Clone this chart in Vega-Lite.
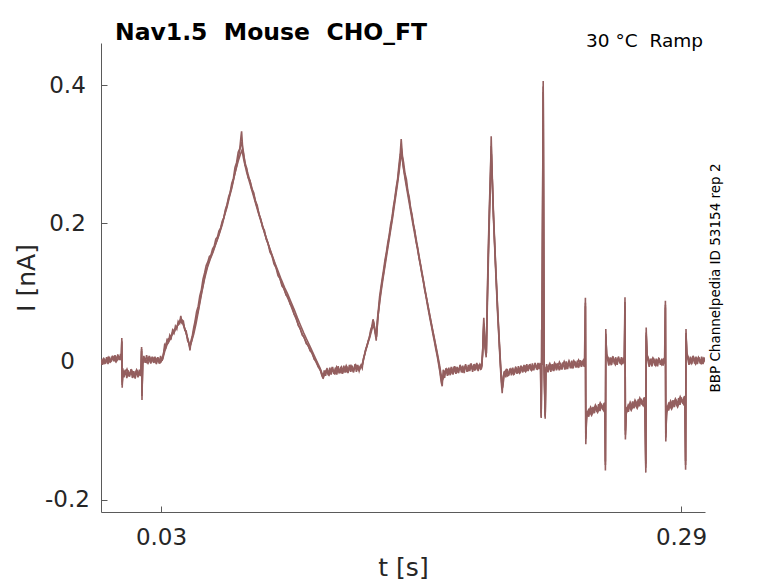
{
  "$schema": "https://vega.github.io/schema/vega-lite/v6.json",
  "width": 604,
  "height": 469,
  "autosize": "none",
  "padding": {"left": 101, "top": 43, "right": 73, "bottom": 71},
  "background": "white",
  "config": {"view": {"stroke": null}, "font": "DejaVu Sans"},
  "title": {
    "text": "Nav1.5 \u00a0Mouse \u00a0CHO_FT",
    "anchor": "start",
    "frame": "group",
    "fontSize": 23.5,
    "fontWeight": "bold",
    "color": "black",
    "dx": 14,
    "offset": -12
  },
  "resolve": {"axis": {"y": "independent"}},
  "layer": [
    {
      "data": {
        "values": [
          {"r":1,"t":0.0000,"i":0.002},{"r":1,"t":0.0007,"i":-0.005},{"r":1,"t":0.0014,"i":0.005},{"r":1,"t":0.0021,"i":-0.003},{"r":1,"t":0.0028,"i":0.006},{"r":1,"t":0.0035,"i":-0.004},{"r":1,"t":0.0042,"i":0.007},{"r":1,"t":0.0049,"i":-0.001},{"r":1,"t":0.0056,"i":0.008},{"r":1,"t":0.0063,"i":0.000},{"r":1,"t":0.0070,"i":0.009},{"r":1,"t":0.0077,"i":0.001},{"r":1,"t":0.0084,"i":0.010},{"r":1,"t":0.0091,"i":0.002},{"r":1,"t":0.0098,"i":0.011},{"r":1,"t":0.0102,"i":0.004},
          {"r":1,"t":0.0104,"i":0.034},{"r":1,"t":0.0106,"i":-0.038},{"r":1,"t":0.0109,"i":-0.010},
          {"r":1,"t":0.0115,"i":-0.023},{"r":1,"t":0.0122,"i":-0.012},{"r":1,"t":0.0129,"i":-0.024},{"r":1,"t":0.0136,"i":-0.013},{"r":1,"t":0.0143,"i":-0.022},{"r":1,"t":0.0150,"i":-0.011},{"r":1,"t":0.0157,"i":-0.024},{"r":1,"t":0.0164,"i":-0.014},{"r":1,"t":0.0171,"i":-0.025},{"r":1,"t":0.0178,"i":-0.013},{"r":1,"t":0.0185,"i":-0.023},{"r":1,"t":0.0192,"i":-0.012},{"r":1,"t":0.0199,"i":-0.021},
          {"r":1,"t":0.0203,"i":0.021},{"r":1,"t":0.0205,"i":-0.056},{"r":1,"t":0.0208,"i":-0.004},
          {"r":1,"t":0.0214,"i":0.008},{"r":1,"t":0.0221,"i":-0.002},{"r":1,"t":0.0228,"i":0.009},{"r":1,"t":0.0235,"i":0.000},{"r":1,"t":0.0242,"i":0.008},{"r":1,"t":0.0249,"i":-0.003},{"r":1,"t":0.0256,"i":0.007},{"r":1,"t":0.0263,"i":-0.002},{"r":1,"t":0.0270,"i":0.007},{"r":1,"t":0.0277,"i":-0.004},{"r":1,"t":0.0284,"i":0.006},{"r":1,"t":0.0291,"i":-0.003},{"r":1,"t":0.0298,"i":0.008},{"r":1,"t":0.0305,"i":0.001},
          {"r":1,"t":0.0312,"i":0.010},{"r":1,"t":0.0318,"i":0.024},{"r":1,"t":0.0324,"i":0.021},{"r":1,"t":0.0330,"i":0.031},{"r":1,"t":0.0337,"i":0.028},{"r":1,"t":0.0344,"i":0.038},{"r":1,"t":0.0351,"i":0.034},{"r":1,"t":0.0358,"i":0.045},{"r":1,"t":0.0365,"i":0.041},{"r":1,"t":0.0372,"i":0.051},{"r":1,"t":0.0379,"i":0.047},{"r":1,"t":0.0386,"i":0.058},{"r":1,"t":0.0393,"i":0.055},{"r":1,"t":0.0399,"i":0.066},{"r":1,"t":0.0405,"i":0.056},{"r":1,"t":0.0412,"i":0.058},{"r":1,"t":0.0419,"i":0.045},{"r":1,"t":0.0426,"i":0.044},{"r":1,"t":0.0433,"i":0.030},{"r":1,"t":0.0440,"i":0.026},{"r":1,"t":0.0445,"i":0.016},{"r":1,"t":0.0450,"i":0.030},{"r":1,"t":0.0456,"i":0.036},{"r":1,"t":0.0463,"i":0.048},
          {"r":1,"t":0.0470,"i":0.058},{"r":1,"t":0.0478,"i":0.072},{"r":1,"t":0.0486,"i":0.080},{"r":1,"t":0.0494,"i":0.095},{"r":1,"t":0.0502,"i":0.104},{"r":1,"t":0.0510,"i":0.119},{"r":1,"t":0.0518,"i":0.128},{"r":1,"t":0.0526,"i":0.139},{"r":1,"t":0.0534,"i":0.144},{"r":1,"t":0.0542,"i":0.152},{"r":1,"t":0.0550,"i":0.154},{"r":1,"t":0.0558,"i":0.163},{"r":1,"t":0.0566,"i":0.167},{"r":1,"t":0.0574,"i":0.177},{"r":1,"t":0.0582,"i":0.180},{"r":1,"t":0.0590,"i":0.189},{"r":1,"t":0.0598,"i":0.193},{"r":1,"t":0.0606,"i":0.203},{"r":1,"t":0.0614,"i":0.208},{"r":1,"t":0.0622,"i":0.220},{"r":1,"t":0.0630,"i":0.227},{"r":1,"t":0.0638,"i":0.238},{"r":1,"t":0.0646,"i":0.245},{"r":1,"t":0.0654,"i":0.258},{"r":1,"t":0.0662,"i":0.265},{"r":1,"t":0.0670,"i":0.281},{"r":1,"t":0.0678,"i":0.288},{"r":1,"t":0.0686,"i":0.303},{"r":1,"t":0.0694,"i":0.308},{"r":1,"t":0.0700,"i":0.326},{"r":1,"t":0.0703,"i":0.333},
          {"r":1,"t":0.0708,"i":0.310},{"r":1,"t":0.0714,"i":0.300},{"r":1,"t":0.0720,"i":0.284},{"r":1,"t":0.0727,"i":0.281},{"r":1,"t":0.0736,"i":0.266},{"r":1,"t":0.0745,"i":0.262},{"r":1,"t":0.0754,"i":0.249},{"r":1,"t":0.0763,"i":0.245},{"r":1,"t":0.0772,"i":0.232},{"r":1,"t":0.0781,"i":0.226},{"r":1,"t":0.0790,"i":0.213},{"r":1,"t":0.0799,"i":0.206},{"r":1,"t":0.0808,"i":0.194},{"r":1,"t":0.0817,"i":0.190},{"r":1,"t":0.0826,"i":0.177},{"r":1,"t":0.0835,"i":0.171},{"r":1,"t":0.0845,"i":0.158},{"r":1,"t":0.0855,"i":0.153},{"r":1,"t":0.0865,"i":0.141},{"r":1,"t":0.0875,"i":0.136},{"r":1,"t":0.0885,"i":0.124},{"r":1,"t":0.0895,"i":0.120},{"r":1,"t":0.0905,"i":0.109},{"r":1,"t":0.0915,"i":0.106},{"r":1,"t":0.0925,"i":0.096},{"r":1,"t":0.0935,"i":0.094},{"r":1,"t":0.0946,"i":0.083},{"r":1,"t":0.0956,"i":0.079},{"r":1,"t":0.0966,"i":0.068},{"r":1,"t":0.0976,"i":0.064},{"r":1,"t":0.0986,"i":0.052},{"r":1,"t":0.0996,"i":0.048},{"r":1,"t":0.1006,"i":0.038},{"r":1,"t":0.1016,"i":0.035},{"r":1,"t":0.1026,"i":0.026},{"r":1,"t":0.1036,"i":0.023},{"r":1,"t":0.1046,"i":0.015},{"r":1,"t":0.1056,"i":0.013},{"r":1,"t":0.1066,"i":0.003},{"r":1,"t":0.1076,"i":0.001},{"r":1,"t":0.1086,"i":-0.008},{"r":1,"t":0.1096,"i":-0.011},{"r":1,"t":0.1104,"i":-0.020},{"r":1,"t":0.1111,"i":-0.025},
          {"r":1,"t":0.1116,"i":-0.013},{"r":1,"t":0.1123,"i":-0.021},{"r":1,"t":0.1130,"i":-0.010},{"r":1,"t":0.1137,"i":-0.020},{"r":1,"t":0.1144,"i":-0.009},{"r":1,"t":0.1151,"i":-0.019},{"r":1,"t":0.1158,"i":-0.008},{"r":1,"t":0.1165,"i":-0.018},{"r":1,"t":0.1172,"i":-0.009},{"r":1,"t":0.1179,"i":-0.019},{"r":1,"t":0.1186,"i":-0.007},{"r":1,"t":0.1193,"i":-0.017},{"r":1,"t":0.1200,"i":-0.008},{"r":1,"t":0.1207,"i":-0.018},{"r":1,"t":0.1214,"i":-0.006},{"r":1,"t":0.1221,"i":-0.016},{"r":1,"t":0.1228,"i":-0.007},{"r":1,"t":0.1235,"i":-0.017},{"r":1,"t":0.1242,"i":-0.005},{"r":1,"t":0.1249,"i":-0.015},{"r":1,"t":0.1256,"i":-0.006},{"r":1,"t":0.1263,"i":-0.016},{"r":1,"t":0.1270,"i":-0.004},{"r":1,"t":0.1277,"i":-0.015},{"r":1,"t":0.1284,"i":-0.005},{"r":1,"t":0.1291,"i":-0.014},
          {"r":1,"t":0.1300,"i":-0.006},{"r":1,"t":0.1306,"i":-0.010},{"r":1,"t":0.1312,"i":0.004},{"r":1,"t":0.1318,"i":0.010},{"r":1,"t":0.1324,"i":0.018},{"r":1,"t":0.1330,"i":0.022},{"r":1,"t":0.1336,"i":0.030},{"r":1,"t":0.1342,"i":0.034},{"r":1,"t":0.1348,"i":0.045},{"r":1,"t":0.1354,"i":0.050},{"r":1,"t":0.1360,"i":0.061},{"r":1,"t":0.1365,"i":0.055},{"r":1,"t":0.1370,"i":0.043},{"r":1,"t":0.1376,"i":0.030},{"r":1,"t":0.1381,"i":0.058},{"r":1,"t":0.1387,"i":0.075},{"r":1,"t":0.1393,"i":0.094},{"r":1,"t":0.1399,"i":0.106},{"r":1,"t":0.1406,"i":0.120},{"r":1,"t":0.1413,"i":0.133},{"r":1,"t":0.1420,"i":0.147},{"r":1,"t":0.1427,"i":0.158},{"r":1,"t":0.1434,"i":0.172},{"r":1,"t":0.1441,"i":0.183},{"r":1,"t":0.1448,"i":0.198},{"r":1,"t":0.1455,"i":0.208},{"r":1,"t":0.1462,"i":0.224},{"r":1,"t":0.1469,"i":0.236},{"r":1,"t":0.1476,"i":0.252},{"r":1,"t":0.1483,"i":0.264},{"r":1,"t":0.1490,"i":0.285},{"r":1,"t":0.1496,"i":0.300},{"r":1,"t":0.1501,"i":0.322},
          {"r":1,"t":0.1507,"i":0.298},{"r":1,"t":0.1513,"i":0.288},{"r":1,"t":0.1520,"i":0.272},{"r":1,"t":0.1527,"i":0.264},{"r":1,"t":0.1534,"i":0.247},{"r":1,"t":0.1541,"i":0.238},{"r":1,"t":0.1548,"i":0.222},{"r":1,"t":0.1555,"i":0.213},{"r":1,"t":0.1562,"i":0.198},{"r":1,"t":0.1569,"i":0.189},{"r":1,"t":0.1576,"i":0.173},{"r":1,"t":0.1583,"i":0.164},{"r":1,"t":0.1590,"i":0.150},{"r":1,"t":0.1597,"i":0.140},{"r":1,"t":0.1604,"i":0.127},{"r":1,"t":0.1611,"i":0.117},{"r":1,"t":0.1618,"i":0.104},{"r":1,"t":0.1625,"i":0.094},{"r":1,"t":0.1632,"i":0.082},{"r":1,"t":0.1639,"i":0.071},{"r":1,"t":0.1646,"i":0.060},{"r":1,"t":0.1653,"i":0.050},{"r":1,"t":0.1660,"i":0.039},{"r":1,"t":0.1667,"i":0.029},{"r":1,"t":0.1674,"i":0.018},{"r":1,"t":0.1681,"i":0.008},{"r":1,"t":0.1688,"i":-0.004},{"r":1,"t":0.1695,"i":-0.016},{"r":1,"t":0.1701,"i":-0.030},{"r":1,"t":0.1706,"i":-0.036},
          {"r":1,"t":0.1711,"i":-0.012},{"r":1,"t":0.1718,"i":-0.024},{"r":1,"t":0.1725,"i":-0.010},{"r":1,"t":0.1732,"i":-0.021},{"r":1,"t":0.1739,"i":-0.009},{"r":1,"t":0.1746,"i":-0.020},{"r":1,"t":0.1753,"i":-0.008},{"r":1,"t":0.1760,"i":-0.019},{"r":1,"t":0.1767,"i":-0.007},{"r":1,"t":0.1774,"i":-0.018},{"r":1,"t":0.1781,"i":-0.008},{"r":1,"t":0.1788,"i":-0.017},{"r":1,"t":0.1795,"i":-0.005},{"r":1,"t":0.1802,"i":-0.016},{"r":1,"t":0.1809,"i":-0.006},{"r":1,"t":0.1816,"i":-0.017},{"r":1,"t":0.1823,"i":-0.004},{"r":1,"t":0.1830,"i":-0.015},{"r":1,"t":0.1837,"i":-0.005},{"r":1,"t":0.1844,"i":-0.014},{"r":1,"t":0.1851,"i":-0.003},{"r":1,"t":0.1858,"i":-0.015},{"r":1,"t":0.1865,"i":-0.004},{"r":1,"t":0.1872,"i":-0.013},{"r":1,"t":0.1879,"i":-0.002},{"r":1,"t":0.1886,"i":-0.014},{"r":1,"t":0.1893,"i":-0.004},{"r":1,"t":0.1900,"i":-0.012},
          {"r":1,"t":0.1908,"i":0.010},{"r":1,"t":0.1911,"i":0.045},{"r":1,"t":0.1914,"i":0.063},{"r":1,"t":0.1918,"i":0.040},{"r":1,"t":0.1922,"i":0.015},{"r":1,"t":0.1926,"i":0.006},{"r":1,"t":0.1930,"i":0.070},{"r":1,"t":0.1934,"i":0.130},{"r":1,"t":0.1938,"i":0.180},{"r":1,"t":0.1942,"i":0.225},{"r":1,"t":0.1946,"i":0.262},{"r":1,"t":0.1949,"i":0.295},{"r":1,"t":0.1951,"i":0.326},{"r":1,"t":0.1954,"i":0.290},{"r":1,"t":0.1958,"i":0.252},{"r":1,"t":0.1962,"i":0.210},{"r":1,"t":0.1967,"i":0.175},{"r":1,"t":0.1972,"i":0.140},{"r":1,"t":0.1977,"i":0.108},{"r":1,"t":0.1982,"i":0.075},{"r":1,"t":0.1987,"i":0.048},{"r":1,"t":0.1992,"i":0.020},{"r":1,"t":0.1997,"i":-0.008},{"r":1,"t":0.2002,"i":-0.032},{"r":1,"t":0.2006,"i":-0.046},
          {"r":1,"t":0.2010,"i":-0.024},{"r":1,"t":0.2017,"i":-0.014},{"r":1,"t":0.2024,"i":-0.023},{"r":1,"t":0.2031,"i":-0.011},{"r":1,"t":0.2038,"i":-0.021},{"r":1,"t":0.2045,"i":-0.010},{"r":1,"t":0.2052,"i":-0.020},{"r":1,"t":0.2059,"i":-0.009},{"r":1,"t":0.2066,"i":-0.019},{"r":1,"t":0.2073,"i":-0.008},{"r":1,"t":0.2080,"i":-0.018},{"r":1,"t":0.2087,"i":-0.007},{"r":1,"t":0.2094,"i":-0.017},{"r":1,"t":0.2101,"i":-0.006},{"r":1,"t":0.2108,"i":-0.016},{"r":1,"t":0.2115,"i":-0.005},{"r":1,"t":0.2122,"i":-0.015},{"r":1,"t":0.2129,"i":-0.004},{"r":1,"t":0.2136,"i":-0.014},{"r":1,"t":0.2143,"i":-0.004},{"r":1,"t":0.2150,"i":-0.013},{"r":1,"t":0.2157,"i":-0.003},{"r":1,"t":0.2164,"i":-0.013},{"r":1,"t":0.2171,"i":-0.002},{"r":1,"t":0.2178,"i":-0.012},{"r":1,"t":0.2185,"i":-0.002},{"r":1,"t":0.2192,"i":-0.011},{"r":1,"t":0.2198,"i":-0.003},
          {"r":1,"t":0.2201,"i":-0.082},{"r":1,"t":0.2203,"i":0.046},{"r":1,"t":0.2206,"i":-0.005},{"r":1,"t":0.2211,"i":0.406},{"r":1,"t":0.2215,"i":-0.010},{"r":1,"t":0.2221,"i":-0.083},{"r":1,"t":0.2224,"i":-0.015},
          {"r":1,"t":0.2228,"i":-0.004},{"r":1,"t":0.2235,"i":-0.016},{"r":1,"t":0.2242,"i":-0.005},{"r":1,"t":0.2249,"i":-0.015},{"r":1,"t":0.2256,"i":-0.004},{"r":1,"t":0.2263,"i":-0.014},{"r":1,"t":0.2270,"i":-0.003},{"r":1,"t":0.2277,"i":-0.013},{"r":1,"t":0.2284,"i":-0.003},{"r":1,"t":0.2291,"i":-0.013},{"r":1,"t":0.2298,"i":-0.002},{"r":1,"t":0.2305,"i":-0.012},{"r":1,"t":0.2312,"i":-0.001},{"r":1,"t":0.2319,"i":-0.012},{"r":1,"t":0.2326,"i":0.000},{"r":1,"t":0.2333,"i":-0.011},{"r":1,"t":0.2340,"i":-0.001},{"r":1,"t":0.2347,"i":-0.010},{"r":1,"t":0.2354,"i":0.001},{"r":1,"t":0.2361,"i":-0.010},{"r":1,"t":0.2368,"i":0.000},{"r":1,"t":0.2375,"i":-0.009},{"r":1,"t":0.2382,"i":0.001},{"r":1,"t":0.2389,"i":-0.009},{"r":1,"t":0.2396,"i":0.002},{"r":1,"t":0.2403,"i":-0.008},{"r":1,"t":0.2410,"i":0.001},{"r":1,"t":0.2417,"i":-0.008},
          {"r":1,"t":0.2422,"i":0.092},{"r":1,"t":0.2424,"i":-0.120},{"r":1,"t":0.2427,"i":-0.085},{"r":1,"t":0.2432,"i":-0.072},{"r":1,"t":0.2439,"i":-0.080},{"r":1,"t":0.2446,"i":-0.068},{"r":1,"t":0.2453,"i":-0.077},{"r":1,"t":0.2460,"i":-0.066},{"r":1,"t":0.2467,"i":-0.075},{"r":1,"t":0.2474,"i":-0.064},{"r":1,"t":0.2481,"i":-0.073},{"r":1,"t":0.2488,"i":-0.062},{"r":1,"t":0.2495,"i":-0.072},{"r":1,"t":0.2502,"i":-0.061},{"r":1,"t":0.2509,"i":-0.070},{"r":1,"t":0.2516,"i":-0.060},{"r":1,"t":0.2520,"i":-0.068},
          {"r":1,"t":0.2522,"i":-0.158},{"r":1,"t":0.2524,"i":0.047},{"r":1,"t":0.2527,"i":0.012},{"r":1,"t":0.2532,"i":0.004},{"r":1,"t":0.2539,"i":-0.006},{"r":1,"t":0.2546,"i":0.006},{"r":1,"t":0.2553,"i":-0.005},{"r":1,"t":0.2560,"i":0.007},{"r":1,"t":0.2567,"i":-0.004},{"r":1,"t":0.2574,"i":0.006},{"r":1,"t":0.2581,"i":-0.005},{"r":1,"t":0.2588,"i":0.007},{"r":1,"t":0.2595,"i":-0.003},{"r":1,"t":0.2602,"i":0.006},{"r":1,"t":0.2609,"i":-0.004},{"r":1,"t":0.2616,"i":0.005},
          {"r":1,"t":0.2620,"i":0.093},{"r":1,"t":0.2622,"i":-0.113},{"r":1,"t":0.2625,"i":-0.080},{"r":1,"t":0.2630,"i":-0.066},{"r":1,"t":0.2637,"i":-0.073},{"r":1,"t":0.2644,"i":-0.061},{"r":1,"t":0.2651,"i":-0.070},{"r":1,"t":0.2658,"i":-0.058},{"r":1,"t":0.2665,"i":-0.068},{"r":1,"t":0.2672,"i":-0.057},{"r":1,"t":0.2679,"i":-0.066},{"r":1,"t":0.2686,"i":-0.055},{"r":1,"t":0.2693,"i":-0.065},{"r":1,"t":0.2700,"i":-0.054},{"r":1,"t":0.2707,"i":-0.063},{"r":1,"t":0.2714,"i":-0.053},{"r":1,"t":0.2720,"i":-0.060},
          {"r":1,"t":0.2724,"i":-0.161},{"r":1,"t":0.2726,"i":0.049},{"r":1,"t":0.2729,"i":0.012},{"r":1,"t":0.2734,"i":0.002},{"r":1,"t":0.2741,"i":-0.008},{"r":1,"t":0.2748,"i":0.004},{"r":1,"t":0.2755,"i":-0.007},{"r":1,"t":0.2762,"i":0.005},{"r":1,"t":0.2769,"i":-0.006},{"r":1,"t":0.2776,"i":0.004},{"r":1,"t":0.2783,"i":-0.007},{"r":1,"t":0.2790,"i":0.005},{"r":1,"t":0.2797,"i":-0.005},{"r":1,"t":0.2804,"i":0.004},{"r":1,"t":0.2811,"i":-0.006},{"r":1,"t":0.2818,"i":0.003},
          {"r":1,"t":0.2822,"i":0.088},{"r":1,"t":0.2824,"i":-0.116},{"r":1,"t":0.2827,"i":-0.078},{"r":1,"t":0.2832,"i":-0.064},{"r":1,"t":0.2839,"i":-0.071},{"r":1,"t":0.2846,"i":-0.059},{"r":1,"t":0.2853,"i":-0.068},{"r":1,"t":0.2860,"i":-0.056},{"r":1,"t":0.2867,"i":-0.066},{"r":1,"t":0.2874,"i":-0.055},{"r":1,"t":0.2881,"i":-0.064},{"r":1,"t":0.2888,"i":-0.053},{"r":1,"t":0.2895,"i":-0.063},{"r":1,"t":0.2902,"i":-0.052},{"r":1,"t":0.2909,"i":-0.061},{"r":1,"t":0.2916,"i":-0.051},{"r":1,"t":0.2920,"i":-0.058},
          {"r":1,"t":0.2923,"i":-0.157},{"r":1,"t":0.2925,"i":0.047},{"r":1,"t":0.2928,"i":0.014},{"r":1,"t":0.2933,"i":0.005},{"r":1,"t":0.2940,"i":-0.005},{"r":1,"t":0.2947,"i":0.007},{"r":1,"t":0.2954,"i":-0.004},{"r":1,"t":0.2961,"i":0.008},{"r":1,"t":0.2968,"i":-0.003},{"r":1,"t":0.2975,"i":0.007},{"r":1,"t":0.2982,"i":-0.004},{"r":1,"t":0.2989,"i":0.006},{"r":1,"t":0.2996,"i":-0.003},{"r":1,"t":0.3003,"i":0.007},{"r":1,"t":0.3010,"i":-0.004},{"r":1,"t":0.3017,"i":0.005},{"r":1,"t":0.3024,"i":-0.002},

          {"r":2,"t":0.0000,"i":-0.004},{"r":2,"t":0.0012,"i":0.004},{"r":2,"t":0.0024,"i":-0.002},{"r":2,"t":0.0036,"i":0.006},{"r":2,"t":0.0048,"i":0.000},{"r":2,"t":0.0060,"i":0.007},{"r":2,"t":0.0072,"i":0.002},{"r":2,"t":0.0084,"i":0.008},{"r":2,"t":0.0096,"i":0.004},{"r":2,"t":0.0102,"i":0.007},
          {"r":2,"t":0.0104,"i":0.030},{"r":2,"t":0.0106,"i":-0.034},{"r":2,"t":0.0109,"i":-0.014},
          {"r":2,"t":0.0118,"i":-0.019},{"r":2,"t":0.0130,"i":-0.011},{"r":2,"t":0.0142,"i":-0.020},{"r":2,"t":0.0154,"i":-0.013},{"r":2,"t":0.0166,"i":-0.021},{"r":2,"t":0.0178,"i":-0.012},{"r":2,"t":0.0190,"i":-0.019},{"r":2,"t":0.0200,"i":-0.014},
          {"r":2,"t":0.0203,"i":0.018},{"r":2,"t":0.0205,"i":-0.050},{"r":2,"t":0.0208,"i":-0.002},
          {"r":2,"t":0.0216,"i":0.005},{"r":2,"t":0.0228,"i":-0.001},{"r":2,"t":0.0240,"i":0.006},{"r":2,"t":0.0252,"i":0.000},{"r":2,"t":0.0264,"i":0.005},{"r":2,"t":0.0276,"i":-0.002},{"r":2,"t":0.0288,"i":0.004},{"r":2,"t":0.0300,"i":0.000},{"r":2,"t":0.0308,"i":0.005},
          {"r":2,"t":0.0316,"i":0.016},{"r":2,"t":0.0326,"i":0.026},{"r":2,"t":0.0336,"i":0.033},{"r":2,"t":0.0346,"i":0.032},{"r":2,"t":0.0356,"i":0.041},{"r":2,"t":0.0366,"i":0.046},{"r":2,"t":0.0376,"i":0.048},{"r":2,"t":0.0386,"i":0.054},{"r":2,"t":0.0396,"i":0.060},{"r":2,"t":0.0406,"i":0.060},{"r":2,"t":0.0416,"i":0.050},{"r":2,"t":0.0426,"i":0.040},{"r":2,"t":0.0436,"i":0.030},{"r":2,"t":0.0444,"i":0.020},{"r":2,"t":0.0452,"i":0.028},{"r":2,"t":0.0462,"i":0.042},
          {"r":2,"t":0.0474,"i":0.060},{"r":2,"t":0.0486,"i":0.074},{"r":2,"t":0.0498,"i":0.093},{"r":2,"t":0.0510,"i":0.110},{"r":2,"t":0.0522,"i":0.128},{"r":2,"t":0.0534,"i":0.140},{"r":2,"t":0.0546,"i":0.150},{"r":2,"t":0.0558,"i":0.158},{"r":2,"t":0.0570,"i":0.168},{"r":2,"t":0.0582,"i":0.177},{"r":2,"t":0.0594,"i":0.187},{"r":2,"t":0.0606,"i":0.198},{"r":2,"t":0.0618,"i":0.212},{"r":2,"t":0.0630,"i":0.223},{"r":2,"t":0.0642,"i":0.238},{"r":2,"t":0.0654,"i":0.251},{"r":2,"t":0.0666,"i":0.268},{"r":2,"t":0.0678,"i":0.283},{"r":2,"t":0.0690,"i":0.300},{"r":2,"t":0.0698,"i":0.312},{"r":2,"t":0.0704,"i":0.318},
          {"r":2,"t":0.0712,"i":0.300},{"r":2,"t":0.0722,"i":0.286},{"r":2,"t":0.0734,"i":0.272},{"r":2,"t":0.0748,"i":0.258},{"r":2,"t":0.0762,"i":0.243},{"r":2,"t":0.0776,"i":0.228},{"r":2,"t":0.0790,"i":0.214},{"r":2,"t":0.0804,"i":0.200},{"r":2,"t":0.0818,"i":0.186},{"r":2,"t":0.0832,"i":0.174},{"r":2,"t":0.0846,"i":0.161},{"r":2,"t":0.0860,"i":0.149},{"r":2,"t":0.0874,"i":0.137},{"r":2,"t":0.0888,"i":0.126},{"r":2,"t":0.0902,"i":0.114},{"r":2,"t":0.0916,"i":0.104},{"r":2,"t":0.0930,"i":0.094},{"r":2,"t":0.0944,"i":0.085},{"r":2,"t":0.0958,"i":0.074},{"r":2,"t":0.0972,"i":0.064},{"r":2,"t":0.0986,"i":0.054},{"r":2,"t":0.1000,"i":0.044},{"r":2,"t":0.1014,"i":0.035},{"r":2,"t":0.1028,"i":0.027},{"r":2,"t":0.1042,"i":0.019},{"r":2,"t":0.1056,"i":0.011},{"r":2,"t":0.1070,"i":0.002},{"r":2,"t":0.1084,"i":-0.006},{"r":2,"t":0.1098,"i":-0.014},{"r":2,"t":0.1108,"i":-0.022},
          {"r":2,"t":0.1118,"i":-0.018},{"r":2,"t":0.1130,"i":-0.011},{"r":2,"t":0.1142,"i":-0.018},{"r":2,"t":0.1154,"i":-0.010},{"r":2,"t":0.1166,"i":-0.017},{"r":2,"t":0.1178,"i":-0.008},{"r":2,"t":0.1190,"i":-0.016},{"r":2,"t":0.1202,"i":-0.008},{"r":2,"t":0.1214,"i":-0.015},{"r":2,"t":0.1226,"i":-0.006},{"r":2,"t":0.1238,"i":-0.014},{"r":2,"t":0.1250,"i":-0.006},{"r":2,"t":0.1262,"i":-0.013},{"r":2,"t":0.1274,"i":-0.005},{"r":2,"t":0.1286,"i":-0.012},{"r":2,"t":0.1298,"i":-0.006},
          {"r":2,"t":0.1308,"i":-0.004},{"r":2,"t":0.1316,"i":0.008},{"r":2,"t":0.1326,"i":0.020},{"r":2,"t":0.1336,"i":0.029},{"r":2,"t":0.1346,"i":0.040},{"r":2,"t":0.1356,"i":0.052},{"r":2,"t":0.1363,"i":0.056},{"r":2,"t":0.1370,"i":0.046},{"r":2,"t":0.1377,"i":0.036},{"r":2,"t":0.1384,"i":0.062},{"r":2,"t":0.1394,"i":0.090},{"r":2,"t":0.1404,"i":0.112},{"r":2,"t":0.1414,"i":0.130},{"r":2,"t":0.1424,"i":0.150},{"r":2,"t":0.1434,"i":0.168},{"r":2,"t":0.1444,"i":0.186},{"r":2,"t":0.1454,"i":0.204},{"r":2,"t":0.1464,"i":0.224},{"r":2,"t":0.1474,"i":0.244},{"r":2,"t":0.1484,"i":0.264},{"r":2,"t":0.1492,"i":0.284},{"r":2,"t":0.1498,"i":0.300},{"r":2,"t":0.1502,"i":0.308},
          {"r":2,"t":0.1510,"i":0.286},{"r":2,"t":0.1520,"i":0.268},{"r":2,"t":0.1530,"i":0.252},{"r":2,"t":0.1540,"i":0.236},{"r":2,"t":0.1550,"i":0.218},{"r":2,"t":0.1560,"i":0.202},{"r":2,"t":0.1570,"i":0.186},{"r":2,"t":0.1580,"i":0.170},{"r":2,"t":0.1590,"i":0.153},{"r":2,"t":0.1600,"i":0.137},{"r":2,"t":0.1610,"i":0.121},{"r":2,"t":0.1620,"i":0.104},{"r":2,"t":0.1630,"i":0.088},{"r":2,"t":0.1640,"i":0.072},{"r":2,"t":0.1650,"i":0.057},{"r":2,"t":0.1660,"i":0.042},{"r":2,"t":0.1670,"i":0.027},{"r":2,"t":0.1680,"i":0.012},{"r":2,"t":0.1690,"i":-0.004},{"r":2,"t":0.1698,"i":-0.020},{"r":2,"t":0.1704,"i":-0.030},
          {"r":2,"t":0.1714,"i":-0.017},{"r":2,"t":0.1726,"i":-0.011},{"r":2,"t":0.1738,"i":-0.018},{"r":2,"t":0.1750,"i":-0.010},{"r":2,"t":0.1762,"i":-0.016},{"r":2,"t":0.1774,"i":-0.009},{"r":2,"t":0.1786,"i":-0.015},{"r":2,"t":0.1798,"i":-0.007},{"r":2,"t":0.1810,"i":-0.014},{"r":2,"t":0.1822,"i":-0.006},{"r":2,"t":0.1834,"i":-0.013},{"r":2,"t":0.1846,"i":-0.005},{"r":2,"t":0.1858,"i":-0.012},{"r":2,"t":0.1870,"i":-0.005},{"r":2,"t":0.1882,"i":-0.011},{"r":2,"t":0.1894,"i":-0.004},{"r":2,"t":0.1903,"i":-0.010},
          {"r":2,"t":0.1909,"i":0.018},{"r":2,"t":0.1914,"i":0.055},{"r":2,"t":0.1919,"i":0.030},{"r":2,"t":0.1926,"i":0.010},{"r":2,"t":0.1931,"i":0.080},{"r":2,"t":0.1936,"i":0.150},{"r":2,"t":0.1941,"i":0.205},{"r":2,"t":0.1946,"i":0.255},{"r":2,"t":0.1951,"i":0.312},{"r":2,"t":0.1955,"i":0.275},{"r":2,"t":0.1960,"i":0.228},{"r":2,"t":0.1966,"i":0.185},{"r":2,"t":0.1972,"i":0.146},{"r":2,"t":0.1978,"i":0.107},{"r":2,"t":0.1984,"i":0.070},{"r":2,"t":0.1990,"i":0.035},{"r":2,"t":0.1996,"i":0.003},{"r":2,"t":0.2002,"i":-0.025},{"r":2,"t":0.2006,"i":-0.040},
          {"r":2,"t":0.2014,"i":-0.018},{"r":2,"t":0.2026,"i":-0.012},{"r":2,"t":0.2038,"i":-0.019},{"r":2,"t":0.2050,"i":-0.011},{"r":2,"t":0.2062,"i":-0.017},{"r":2,"t":0.2074,"i":-0.009},{"r":2,"t":0.2086,"i":-0.015},{"r":2,"t":0.2098,"i":-0.008},{"r":2,"t":0.2110,"i":-0.014},{"r":2,"t":0.2122,"i":-0.007},{"r":2,"t":0.2134,"i":-0.012},{"r":2,"t":0.2146,"i":-0.005},{"r":2,"t":0.2158,"i":-0.011},{"r":2,"t":0.2170,"i":-0.004},{"r":2,"t":0.2182,"i":-0.010},{"r":2,"t":0.2194,"i":-0.004},{"r":2,"t":0.2199,"i":-0.008},
          {"r":2,"t":0.2201,"i":-0.080},{"r":2,"t":0.2204,"i":0.010},{"r":2,"t":0.2211,"i":0.398},{"r":2,"t":0.2216,"i":-0.006},{"r":2,"t":0.2221,"i":-0.080},{"r":2,"t":0.2224,"i":-0.012},
          {"r":2,"t":0.2232,"i":-0.010},{"r":2,"t":0.2244,"i":-0.003},{"r":2,"t":0.2256,"i":-0.011},{"r":2,"t":0.2268,"i":-0.002},{"r":2,"t":0.2280,"i":-0.010},{"r":2,"t":0.2292,"i":-0.001},{"r":2,"t":0.2304,"i":-0.009},{"r":2,"t":0.2316,"i":0.000},{"r":2,"t":0.2328,"i":-0.008},{"r":2,"t":0.2340,"i":0.001},{"r":2,"t":0.2352,"i":-0.007},{"r":2,"t":0.2364,"i":0.001},{"r":2,"t":0.2376,"i":-0.006},{"r":2,"t":0.2388,"i":0.002},{"r":2,"t":0.2400,"i":-0.006},{"r":2,"t":0.2412,"i":0.002},{"r":2,"t":0.2420,"i":-0.004},
          {"r":2,"t":0.2422,"i":0.085},{"r":2,"t":0.2424,"i":-0.112},{"r":2,"t":0.2428,"i":-0.080},{"r":2,"t":0.2436,"i":-0.076},{"r":2,"t":0.2448,"i":-0.066},{"r":2,"t":0.2460,"i":-0.073},{"r":2,"t":0.2472,"i":-0.063},{"r":2,"t":0.2484,"i":-0.070},{"r":2,"t":0.2496,"i":-0.060},{"r":2,"t":0.2508,"i":-0.067},{"r":2,"t":0.2519,"i":-0.060},
          {"r":2,"t":0.2522,"i":-0.150},{"r":2,"t":0.2524,"i":0.040},{"r":2,"t":0.2528,"i":0.010},{"r":2,"t":0.2538,"i":0.004},{"r":2,"t":0.2550,"i":-0.004},{"r":2,"t":0.2562,"i":0.005},{"r":2,"t":0.2574,"i":-0.003},{"r":2,"t":0.2586,"i":0.005},{"r":2,"t":0.2598,"i":-0.002},{"r":2,"t":0.2610,"i":0.004},{"r":2,"t":0.2618,"i":-0.002},
          {"r":2,"t":0.2620,"i":0.086},{"r":2,"t":0.2622,"i":-0.106},{"r":2,"t":0.2626,"i":-0.075},{"r":2,"t":0.2634,"i":-0.070},{"r":2,"t":0.2646,"i":-0.059},{"r":2,"t":0.2658,"i":-0.066},{"r":2,"t":0.2670,"i":-0.056},{"r":2,"t":0.2682,"i":-0.063},{"r":2,"t":0.2694,"i":-0.053},{"r":2,"t":0.2706,"i":-0.061},{"r":2,"t":0.2718,"i":-0.052},
          {"r":2,"t":0.2724,"i":-0.154},{"r":2,"t":0.2726,"i":0.042},{"r":2,"t":0.2730,"i":0.010},{"r":2,"t":0.2740,"i":0.002},{"r":2,"t":0.2752,"i":-0.005},{"r":2,"t":0.2764,"i":0.003},{"r":2,"t":0.2776,"i":-0.004},{"r":2,"t":0.2788,"i":0.004},{"r":2,"t":0.2800,"i":-0.003},{"r":2,"t":0.2812,"i":0.003},{"r":2,"t":0.2820,"i":-0.003},
          {"r":2,"t":0.2822,"i":0.082},{"r":2,"t":0.2824,"i":-0.110},{"r":2,"t":0.2828,"i":-0.074},{"r":2,"t":0.2836,"i":-0.068},{"r":2,"t":0.2848,"i":-0.057},{"r":2,"t":0.2860,"i":-0.064},{"r":2,"t":0.2872,"i":-0.054},{"r":2,"t":0.2884,"i":-0.061},{"r":2,"t":0.2896,"i":-0.051},{"r":2,"t":0.2908,"i":-0.059},{"r":2,"t":0.2919,"i":-0.050},
          {"r":2,"t":0.2923,"i":-0.150},{"r":2,"t":0.2925,"i":0.041},{"r":2,"t":0.2929,"i":0.012},{"r":2,"t":0.2939,"i":0.004},{"r":2,"t":0.2951,"i":-0.003},{"r":2,"t":0.2963,"i":0.006},{"r":2,"t":0.2975,"i":-0.002},{"r":2,"t":0.2987,"i":0.006},{"r":2,"t":0.2999,"i":-0.002},{"r":2,"t":0.3011,"i":0.005},{"r":2,"t":0.3024,"i":0.000},

          {"r":3,"t":0.0000,"i":0.003},{"r":3,"t":0.0015,"i":-0.003},{"r":3,"t":0.0030,"i":0.004},{"r":3,"t":0.0045,"i":-0.001},{"r":3,"t":0.0060,"i":0.005},{"r":3,"t":0.0075,"i":-0.001},{"r":3,"t":0.0090,"i":0.006},{"r":3,"t":0.0102,"i":0.002},
          {"r":3,"t":0.0104,"i":0.028},{"r":3,"t":0.0106,"i":-0.030},{"r":3,"t":0.0110,"i":-0.016},
          {"r":3,"t":0.0120,"i":-0.014},{"r":3,"t":0.0135,"i":-0.021},{"r":3,"t":0.0150,"i":-0.015},{"r":3,"t":0.0165,"i":-0.022},{"r":3,"t":0.0180,"i":-0.014},{"r":3,"t":0.0195,"i":-0.020},{"r":3,"t":0.0201,"i":-0.016},
          {"r":3,"t":0.0203,"i":0.015},{"r":3,"t":0.0205,"i":-0.045},{"r":3,"t":0.0209,"i":-0.003},
          {"r":3,"t":0.0220,"i":0.004},{"r":3,"t":0.0235,"i":-0.003},{"r":3,"t":0.0250,"i":0.005},{"r":3,"t":0.0265,"i":-0.001},{"r":3,"t":0.0280,"i":0.004},{"r":3,"t":0.0295,"i":-0.002},{"r":3,"t":0.0308,"i":0.003},
          {"r":3,"t":0.0318,"i":0.014},{"r":3,"t":0.0330,"i":0.024},{"r":3,"t":0.0342,"i":0.030},{"r":3,"t":0.0354,"i":0.038},{"r":3,"t":0.0366,"i":0.042},{"r":3,"t":0.0378,"i":0.050},{"r":3,"t":0.0390,"i":0.055},{"r":3,"t":0.0400,"i":0.058},{"r":3,"t":0.0410,"i":0.054},{"r":3,"t":0.0422,"i":0.045},{"r":3,"t":0.0434,"i":0.033},{"r":3,"t":0.0444,"i":0.022},{"r":3,"t":0.0454,"i":0.030},{"r":3,"t":0.0464,"i":0.040},
          {"r":3,"t":0.0476,"i":0.056},{"r":3,"t":0.0490,"i":0.078},{"r":3,"t":0.0504,"i":0.100},{"r":3,"t":0.0518,"i":0.120},{"r":3,"t":0.0532,"i":0.136},{"r":3,"t":0.0546,"i":0.148},{"r":3,"t":0.0560,"i":0.158},{"r":3,"t":0.0574,"i":0.170},{"r":3,"t":0.0588,"i":0.182},{"r":3,"t":0.0602,"i":0.196},{"r":3,"t":0.0616,"i":0.210},{"r":3,"t":0.0630,"i":0.226},{"r":3,"t":0.0644,"i":0.242},{"r":3,"t":0.0658,"i":0.258},{"r":3,"t":0.0672,"i":0.275},{"r":3,"t":0.0686,"i":0.290},{"r":3,"t":0.0697,"i":0.300},{"r":3,"t":0.0705,"i":0.306},
          {"r":3,"t":0.0714,"i":0.292},{"r":3,"t":0.0728,"i":0.274},{"r":3,"t":0.0742,"i":0.260},{"r":3,"t":0.0758,"i":0.244},{"r":3,"t":0.0774,"i":0.228},{"r":3,"t":0.0790,"i":0.212},{"r":3,"t":0.0806,"i":0.197},{"r":3,"t":0.0822,"i":0.182},{"r":3,"t":0.0838,"i":0.168},{"r":3,"t":0.0854,"i":0.155},{"r":3,"t":0.0870,"i":0.142},{"r":3,"t":0.0886,"i":0.130},{"r":3,"t":0.0902,"i":0.118},{"r":3,"t":0.0918,"i":0.107},{"r":3,"t":0.0934,"i":0.097},{"r":3,"t":0.0950,"i":0.086},{"r":3,"t":0.0966,"i":0.075},{"r":3,"t":0.0982,"i":0.063},{"r":3,"t":0.0998,"i":0.052},{"r":3,"t":0.1014,"i":0.041},{"r":3,"t":0.1030,"i":0.031},{"r":3,"t":0.1046,"i":0.021},{"r":3,"t":0.1062,"i":0.011},{"r":3,"t":0.1078,"i":0.001},{"r":3,"t":0.1094,"i":-0.009},{"r":3,"t":0.1106,"i":-0.018},{"r":3,"t":0.1112,"i":-0.023},
          {"r":3,"t":0.1125,"i":-0.014},{"r":3,"t":0.1140,"i":-0.020},{"r":3,"t":0.1155,"i":-0.012},{"r":3,"t":0.1170,"i":-0.018},{"r":3,"t":0.1185,"i":-0.010},{"r":3,"t":0.1200,"i":-0.016},{"r":3,"t":0.1215,"i":-0.009},{"r":3,"t":0.1230,"i":-0.015},{"r":3,"t":0.1245,"i":-0.007},{"r":3,"t":0.1260,"i":-0.014},{"r":3,"t":0.1275,"i":-0.007},{"r":3,"t":0.1290,"i":-0.013},{"r":3,"t":0.1300,"i":-0.008},
          {"r":3,"t":0.1310,"i":0.000},{"r":3,"t":0.1322,"i":0.014},{"r":3,"t":0.1334,"i":0.026},{"r":3,"t":0.1346,"i":0.037},{"r":3,"t":0.1356,"i":0.048},{"r":3,"t":0.1364,"i":0.052},{"r":3,"t":0.1372,"i":0.040},{"r":3,"t":0.1378,"i":0.038},{"r":3,"t":0.1386,"i":0.068},{"r":3,"t":0.1398,"i":0.096},{"r":3,"t":0.1410,"i":0.120},{"r":3,"t":0.1422,"i":0.142},{"r":3,"t":0.1434,"i":0.164},{"r":3,"t":0.1446,"i":0.186},{"r":3,"t":0.1458,"i":0.208},{"r":3,"t":0.1470,"i":0.232},{"r":3,"t":0.1482,"i":0.256},{"r":3,"t":0.1492,"i":0.278},{"r":3,"t":0.1499,"i":0.296},{"r":3,"t":0.1503,"i":0.302},
          {"r":3,"t":0.1512,"i":0.280},{"r":3,"t":0.1524,"i":0.258},{"r":3,"t":0.1536,"i":0.238},{"r":3,"t":0.1548,"i":0.218},{"r":3,"t":0.1560,"i":0.198},{"r":3,"t":0.1572,"i":0.179},{"r":3,"t":0.1584,"i":0.160},{"r":3,"t":0.1596,"i":0.141},{"r":3,"t":0.1608,"i":0.122},{"r":3,"t":0.1620,"i":0.103},{"r":3,"t":0.1632,"i":0.085},{"r":3,"t":0.1644,"i":0.067},{"r":3,"t":0.1656,"i":0.049},{"r":3,"t":0.1668,"i":0.032},{"r":3,"t":0.1680,"i":0.014},{"r":3,"t":0.1692,"i":-0.004},{"r":3,"t":0.1700,"i":-0.018},{"r":3,"t":0.1706,"i":-0.028},
          {"r":3,"t":0.1718,"i":-0.019},{"r":3,"t":0.1733,"i":-0.012},{"r":3,"t":0.1748,"i":-0.018},{"r":3,"t":0.1763,"i":-0.010},{"r":3,"t":0.1778,"i":-0.016},{"r":3,"t":0.1793,"i":-0.009},{"r":3,"t":0.1808,"i":-0.015},{"r":3,"t":0.1823,"i":-0.007},{"r":3,"t":0.1838,"i":-0.013},{"r":3,"t":0.1853,"i":-0.006},{"r":3,"t":0.1868,"i":-0.012},{"r":3,"t":0.1883,"i":-0.005},{"r":3,"t":0.1898,"i":-0.011},{"r":3,"t":0.1905,"i":-0.006},
          {"r":3,"t":0.1910,"i":0.025},{"r":3,"t":0.1914,"i":0.050},{"r":3,"t":0.1920,"i":0.020},{"r":3,"t":0.1927,"i":0.012},{"r":3,"t":0.1932,"i":0.085},{"r":3,"t":0.1938,"i":0.160},{"r":3,"t":0.1944,"i":0.228},{"r":3,"t":0.1949,"i":0.275},{"r":3,"t":0.1952,"i":0.300},{"r":3,"t":0.1957,"i":0.258},{"r":3,"t":0.1963,"i":0.210},{"r":3,"t":0.1969,"i":0.168},{"r":3,"t":0.1975,"i":0.128},{"r":3,"t":0.1981,"i":0.090},{"r":3,"t":0.1987,"i":0.055},{"r":3,"t":0.1993,"i":0.022},{"r":3,"t":0.1999,"i":-0.010},{"r":3,"t":0.2004,"i":-0.032},{"r":3,"t":0.2008,"i":-0.038},
          {"r":3,"t":0.2018,"i":-0.016},{"r":3,"t":0.2033,"i":-0.021},{"r":3,"t":0.2048,"i":-0.013},{"r":3,"t":0.2063,"i":-0.019},{"r":3,"t":0.2078,"i":-0.011},{"r":3,"t":0.2093,"i":-0.017},{"r":3,"t":0.2108,"i":-0.009},{"r":3,"t":0.2123,"i":-0.015},{"r":3,"t":0.2138,"i":-0.007},{"r":3,"t":0.2153,"i":-0.013},{"r":3,"t":0.2168,"i":-0.005},{"r":3,"t":0.2183,"i":-0.011},{"r":3,"t":0.2197,"i":-0.005},
          {"r":3,"t":0.2201,"i":-0.075},{"r":3,"t":0.2204,"i":0.005},{"r":3,"t":0.2211,"i":0.390},{"r":3,"t":0.2216,"i":-0.004},{"r":3,"t":0.2221,"i":-0.078},{"r":3,"t":0.2225,"i":-0.010},
          {"r":3,"t":0.2235,"i":-0.013},{"r":3,"t":0.2250,"i":-0.006},{"r":3,"t":0.2265,"i":-0.012},{"r":3,"t":0.2280,"i":-0.004},{"r":3,"t":0.2295,"i":-0.011},{"r":3,"t":0.2310,"i":-0.003},{"r":3,"t":0.2325,"i":-0.010},{"r":3,"t":0.2340,"i":-0.002},{"r":3,"t":0.2355,"i":-0.009},{"r":3,"t":0.2370,"i":-0.001},{"r":3,"t":0.2385,"i":-0.008},{"r":3,"t":0.2400,"i":0.000},{"r":3,"t":0.2415,"i":-0.006},{"r":3,"t":0.2421,"i":-0.002},
          {"r":3,"t":0.2422,"i":0.080},{"r":3,"t":0.2424,"i":-0.105},{"r":3,"t":0.2428,"i":-0.076},{"r":3,"t":0.2438,"i":-0.070},{"r":3,"t":0.2453,"i":-0.078},{"r":3,"t":0.2468,"i":-0.067},{"r":3,"t":0.2483,"i":-0.074},{"r":3,"t":0.2498,"i":-0.064},{"r":3,"t":0.2513,"i":-0.071},{"r":3,"t":0.2520,"i":-0.064},
          {"r":3,"t":0.2522,"i":-0.145},{"r":3,"t":0.2524,"i":0.036},{"r":3,"t":0.2529,"i":0.008},{"r":3,"t":0.2542,"i":-0.002},{"r":3,"t":0.2557,"i":0.006},{"r":3,"t":0.2572,"i":-0.005},{"r":3,"t":0.2587,"i":0.004},{"r":3,"t":0.2602,"i":-0.004},{"r":3,"t":0.2617,"i":0.003},
          {"r":3,"t":0.2620,"i":0.080},{"r":3,"t":0.2622,"i":-0.100},{"r":3,"t":0.2626,"i":-0.072},{"r":3,"t":0.2636,"i":-0.063},{"r":3,"t":0.2651,"i":-0.071},{"r":3,"t":0.2666,"i":-0.060},{"r":3,"t":0.2681,"i":-0.068},{"r":3,"t":0.2696,"i":-0.057},{"r":3,"t":0.2711,"i":-0.064},{"r":3,"t":0.2721,"i":-0.056},
          {"r":3,"t":0.2724,"i":-0.148},{"r":3,"t":0.2726,"i":0.038},{"r":3,"t":0.2731,"i":0.008},{"r":3,"t":0.2744,"i":-0.003},{"r":3,"t":0.2759,"i":0.005},{"r":3,"t":0.2774,"i":-0.006},{"r":3,"t":0.2789,"i":0.003},{"r":3,"t":0.2804,"i":-0.005},{"r":3,"t":0.2819,"i":0.002},
          {"r":3,"t":0.2822,"i":0.078},{"r":3,"t":0.2824,"i":-0.104},{"r":3,"t":0.2828,"i":-0.070},{"r":3,"t":0.2838,"i":-0.061},{"r":3,"t":0.2853,"i":-0.069},{"r":3,"t":0.2868,"i":-0.058},{"r":3,"t":0.2883,"i":-0.066},{"r":3,"t":0.2898,"i":-0.055},{"r":3,"t":0.2913,"i":-0.062},{"r":3,"t":0.2920,"i":-0.054},
          {"r":3,"t":0.2923,"i":-0.144},{"r":3,"t":0.2925,"i":0.037},{"r":3,"t":0.2930,"i":0.009},{"r":3,"t":0.2943,"i":-0.002},{"r":3,"t":0.2958,"i":0.006},{"r":3,"t":0.2973,"i":-0.004},{"r":3,"t":0.2988,"i":0.005},{"r":3,"t":0.3003,"i":-0.003},{"r":3,"t":0.3018,"i":0.004},{"r":3,"t":0.3024,"i":0.001}
        ]
      },
      "mark": {"type": "line", "strokeWidth": 1.6, "color": "#945f5f", "clip": true},
      "encoding": {
        "x": {
          "field": "t",
          "type": "quantitative",
          "scale": {"domain": [0, 0.302], "nice": false, "zero": false},
          "axis": {
            "title": "t [s]",
            "values": [0.03, 0.29],
            "labelExpr": "datum.value + ''",
            "grid": false,
            "domainColor": "#5a5a5a",
            "tickColor": "#5a5a5a",
            "tickSize": -6,
            "labelPadding": 20,
            "labelFontSize": 23,
            "labelColor": "#262626",
            "titleFontSize": 25,
            "titleFontWeight": "normal",
            "titleColor": "#262626",
            "titlePadding": 6
          }
        },
        "y": {
          "field": "i",
          "type": "quantitative",
          "scale": {"domain": [-0.218, 0.461], "nice": false, "zero": false},
          "axis": {
            "title": "I [nA]",
            "values": [-0.2, 0, 0.2, 0.4],
            "labelExpr": "datum.value + ''",
            "labelAlign": "center",
            "grid": false,
            "domainColor": "#5a5a5a",
            "tickColor": "#5a5a5a",
            "tickSize": -6,
            "labelPadding": 40,
            "labelFontSize": 23,
            "labelColor": "#262626",
            "titleFontSize": 25,
            "titleFontWeight": "normal",
            "titleColor": "#262626",
            "titlePadding": 5
          }
        },
        "detail": {"field": "r", "type": "nominal"}
      }
    },
    {
      "data": {"values": [{"label": "30 °C \u00a0Ramp"}]},
      "mark": {"type": "text", "align": "right", "baseline": "alphabetic", "fontSize": 18.5, "dx": -2, "dy": 4, "color": "black"},
      "encoding": {
        "x": {"datum": 0.302},
        "y": {
          "datum": 0.461,
          "axis": {
            "orient": "right",
            "title": "BBP Channelpedia ID 53154 rep 2",
            "labels": false,
            "ticks": false,
            "domain": false,
            "grid": false,
            "titleAngle": 270,
            "titleFontSize": 13.5,
            "titleFontWeight": "normal",
            "titleColor": "black",
            "titlePadding": 17
          }
        },
        "text": {"field": "label"}
      }
    }
  ]
}
